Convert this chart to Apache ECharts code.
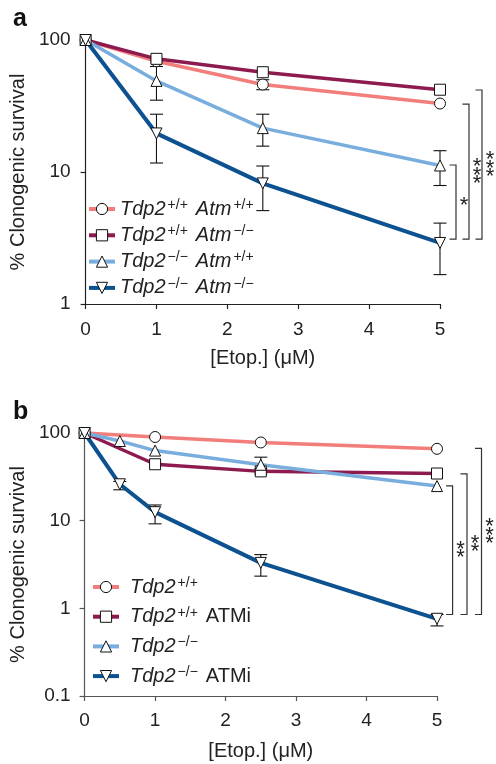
<!DOCTYPE html>
<html>
<head>
<meta charset="utf-8">
<script src="https://cdn.jsdelivr.net/npm/echarts@6/dist/echarts.min.js"></script>
<style>
  html, body { margin: 0; padding: 0; background: #fff; }
  #chart { width: 496px; height: 764px; }
</style>
</head>
<body>
<div id="chart"></div>
<script>
// ---- panel a : Tdp2 x Atm genotypes ----
const doseA = [0, 1, 2.5, 5];
const aWtWt = [100, 69, 46, 33];
const aWtKo = [100, 72, 57, 42];
const aKoWt = [100, 49, 21.5, 11.2];
const aKoKo = [100, 19.6, 8.2, 2.9];
const aWtWtLo = [null, null, 42, null];
const aWtWtHi = [null, null, 50, null];
const aKoWtLo = [null, 35, 15.7, 7.9];
const aKoWtHi = [null, 63, 27.4, 14.5];
const aKoKoLo = [null, 11.7, 5.1, 1.67];
const aKoKoHi = [null, 27.4, 11.1, 4.1];
// brackets at 5 uM: [top, bottom]
const bracketTopA = [11.3, 32.7, 41.8];
const bracketBotA = [3.1, 3.1, 3.1];
const starsA = [1, 3, 3];

// ---- panel b : Tdp2 +/- ATM inhibitor ----
const doseB = [0, 1, 2.5, 5];
const doseB2 = [0, 0.5, 1, 2.5, 5];
const bWt = [100, 90, 78, 66];
const bWtAtmi = [100, 44, 36.5, 34.5];
const bKo = [100, 81, 63, 43.4, 24.8];
const bKoAtmi = [100, 26, 12.5, 3.3, 0.76];
const bWtAtmiLo = [null, null, 34, null];
const bWtAtmiHi = [null, null, 39, null];
const bKoLo = [null, null, null, 36, null];
const bKoHi = [null, null, null, 53, null];
const bKoAtmiLo = [null, 22.5, 9.2, 2.33, 0.63];
const bKoAtmiHi = [null, 28, 15.1, 4.1, 0.85];
const bracketTopB = [25, 34.2, 66.7];
const bracketBotB = [0.85, 0.85, 0.85];
const starsB = [2, 2, 3];

const namesA = ['a1', 'a2', 'a3', 'a4'];
const labelsA = [
  '{i|Tdp2}{s|+/+}{g|}{i|Atm}{s|+/+}',
  '{i|Tdp2}{s|+/+}{g|}{i|Atm}{s|\u2212/\u2212}',
  '{i|Tdp2}{s|\u2212/\u2212}{g|}{i|Atm}{s|+/+}',
  '{i|Tdp2}{s|\u2212/\u2212}{g|}{i|Atm}{s|\u2212/\u2212}'
];
const namesB = ['b1', 'b2', 'b3', 'b4'];
const labelsB = [
  '{h|}{i|Tdp2}{s|+/+}',
  '{h|}{i|Tdp2}{s|+/+}{g|}{n|ATMi}',
  '{h|}{i|Tdp2}{s|\u2212/\u2212}',
  '{h|}{i|Tdp2}{s|\u2212/\u2212}{g|}{n|ATMi}'
];
const xTicks = ['0', '1', '2', '3', '4', '5'];

const FONT = 'Liberation Sans';
const cSalmon = '#f27e7c';
const cMaroon = '#8e1b50';
const cLight = '#79addd';
const cDark = '#0c5190';
const symUp = 'path://M6,0 L12,11 L0,11 Z';
const symDown = 'path://M0,0 L12,0 L6,11 Z';

function pairs(xs, ys) {
  return xs.map((x, i) => [x, ys[i]]);
}
function errData(xs, lo, hi) {
  const out = [];
  xs.forEach((x, i) => { if (lo[i] != null) out.push([x, lo[i], hi[i]]); });
  return out;
}

const rich = {
  i: { fontFamily: FONT, fontStyle: 'italic', fontSize: 20, color: '#222', lineHeight: 22 },
  n: { fontFamily: FONT, fontSize: 20, color: '#222', lineHeight: 22 },
  s: { fontFamily: FONT, fontSize: 14, color: '#222', lineHeight: 12, verticalAlign: 'top', padding: [0, 0, 0, 2] },
  g: { width: 8, lineHeight: 22 },
  h: { width: 6, lineHeight: 22 }
};

function lineSeries(name, data, color, symbol, gi, width) {
  return {
    type: 'line', name: name, data: data,
    xAxisIndex: gi, yAxisIndex: gi,
    symbol: symbol, symbolSize: 11,
    showAllSymbol: true, clip: false, z: 3,
    lineStyle: { color: color, width: width },
    itemStyle: { color: '#fff', borderColor: '#111', borderWidth: 1 },
    emphasis: { disabled: true }
  };
}

function errSeries(data, gi) {
  return {
    type: 'custom', xAxisIndex: gi, yAxisIndex: gi, clip: false, z: 2,
    data: data,
    renderItem: function (params, api) {
      const lo = api.coord([api.value(0), api.value(1)]);
      const hi = api.coord([api.value(0), api.value(2)]);
      const st = { stroke: '#111', lineWidth: 1.1 };
      return { type: 'group', children: [
        { type: 'line', shape: { x1: lo[0], y1: lo[1], x2: hi[0], y2: hi[1] }, style: st },
        { type: 'line', shape: { x1: lo[0] - 6.5, y1: lo[1], x2: lo[0] + 6.5, y2: lo[1] }, style: st },
        { type: 'line', shape: { x1: hi[0] - 6.5, y1: hi[1], x2: hi[0] + 6.5, y2: hi[1] }, style: st }
      ] };
    }
  };
}

function bracketSeries(tops, bots, stars, offsets, gi) {
  return {
    type: 'custom', xAxisIndex: gi, yAxisIndex: gi, clip: false, z: 2,
    data: tops.map((t, i) => [5, t, bots[i]]),
    renderItem: function (params, api) {
      const i = params.dataIndex;
      const top = api.coord([api.value(0), api.value(1)]);
      const bot = api.coord([api.value(0), api.value(2)]);
      const vx = top[0] + offsets[i];
      const children = [
        { type: 'polyline',
          shape: { points: [[vx - 6.5, top[1]], [vx, top[1]], [vx, bot[1]], [vx - 6.5, bot[1]]] },
          style: { stroke: '#333', lineWidth: 1.2, fill: 'none' } }
      ];
      const n = stars[i];
      const mid = (top[1] + bot[1]) / 2;
      for (let k = 0; k < n; k++) {
        children.push({ type: 'text', x: vx + 8, y: mid + (k - (n - 1) / 2) * 8.5 + 4,
          style: { text: '*', font: '22px "' + FONT + '"', fill: '#222', align: 'center', verticalAlign: 'middle' } });
      }
      return { type: 'group', children: children };
    }
  };
}

function xAxis(gi, color, margin, gap) {
  return {
    type: 'value', gridIndex: gi, min: 0, max: 5, interval: 1,
    name: '[Etop.] (\u03bcM)', nameLocation: 'middle', nameGap: gap,
    nameTextStyle: { fontFamily: FONT, fontSize: 20, color: '#222' },
    axisLine: { lineStyle: { color: color, width: 1.2 } },
    axisTick: { length: 5, lineStyle: { color: color, width: 1.2 } },
    axisLabel: { fontFamily: FONT, fontSize: 19, color: '#222', margin: margin,
      formatter: v => xTicks[Math.round(v)] },
    splitLine: { show: false }
  };
}
function yAxis(gi, min, color, margin) {
  return {
    type: 'log', logBase: 10, gridIndex: gi, min: min, max: 100,
    name: '% Clonogenic survival', nameLocation: 'middle', nameGap: 48,
    nameTextStyle: { fontFamily: FONT, fontSize: 20, color: '#222' },
    axisLine: { lineStyle: { color: color, width: 1.2 } },
    axisTick: { length: 5, lineStyle: { color: color, width: 1.2 } },
    axisLabel: { fontFamily: FONT, fontSize: 19, color: '#222', margin: margin,
      formatter: v => String(+v.toPrecision(3)) },
    minorTick: { show: false },
    splitLine: { show: false }
  };
}

function legend(names, labels, left, top, gap) {
  return {
    data: names, orient: 'vertical', left: left, top: top,
    itemWidth: 26, itemHeight: 14, itemGap: gap, padding: 0, selectedMode: false,
    lineStyle: { width: 4 },
    itemStyle: { borderWidth: 1, borderColor: '#111' },
    formatter: n => labels[names.indexOf(n)], textStyle: { rich: rich }
  };
}

const chart = echarts.init(document.getElementById('chart'), null, { renderer: 'canvas' });
chart.setOption({
  animation: false,
  backgroundColor: '#fff',
  title: [
    { text: 'a', left: 8, top: 2, textStyle: { fontFamily: FONT, fontSize: 25, fontWeight: 'bold', color: '#111' } },
    { text: 'b', left: 8, top: 395, textStyle: { fontFamily: FONT, fontSize: 25, fontWeight: 'bold', color: '#111' } }
  ],
  grid: [
    { left: 81, top: 40, width: 359, height: 264 },
    { left: 82, top: 433, width: 355, height: 263 }
  ],
  xAxis: [xAxis(0, '#222', 16, 44), xAxis(1, '#555', 15, 45)],
  yAxis: [yAxis(0, 1, '#222', 15), yAxis(1, 0.1, '#555', 14)],
  legend: [
    legend(namesA, labelsA, 87, 198, 5.3),
    legend(namesB, labelsB, 91, 576, 8.7)
  ],
  series: [
    errSeries(errData(doseA, aWtWtLo, aWtWtHi), 0),
    errSeries(errData(doseA, aKoWtLo, aKoWtHi), 0),
    errSeries(errData(doseA, aKoKoLo, aKoKoHi), 0),
    lineSeries('a1', pairs(doseA, aWtWt), cSalmon, 'circle', 0, 3.5),
    lineSeries('a2', pairs(doseA, aWtKo), cMaroon, 'rect', 0, 3.5),
    lineSeries('a3', pairs(doseA, aKoWt), cLight, symUp, 0, 3.5),
    lineSeries('a4', pairs(doseA, aKoKo), cDark, symDown, 0, 4),
    bracketSeries(bracketTopA, bracketBotA, starsA, [16, 29, 42], 0),

    errSeries(errData(doseB, bWtAtmiLo, bWtAtmiHi), 1),
    errSeries(errData(doseB2, bKoLo, bKoHi), 1),
    errSeries(errData(doseB2, bKoAtmiLo, bKoAtmiHi), 1),
    lineSeries('b1', pairs(doseB, bWt), cSalmon, 'circle', 1, 3.5),
    lineSeries('b2', pairs(doseB, bWtAtmi), cMaroon, 'rect', 1, 3.5),
    lineSeries('b3', pairs(doseB2, bKo), cLight, symUp, 1, 3.5),
    lineSeries('b4', pairs(doseB2, bKoAtmi), cDark, symDown, 1, 4),
    bracketSeries(bracketTopB, bracketBotB, starsB, [15.6, 30, 44.5], 1)
  ]
});
</script>
</body>
</html>
